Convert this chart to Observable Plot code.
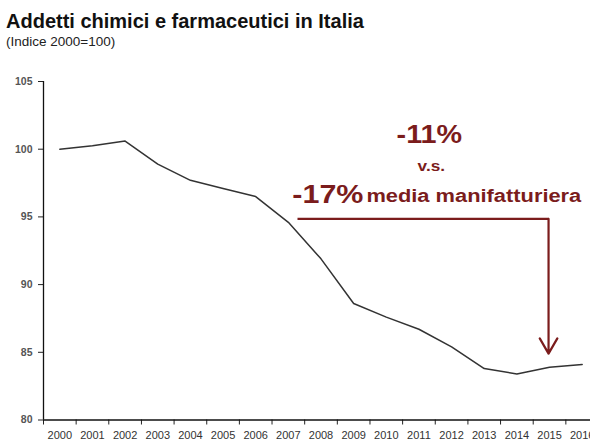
<!DOCTYPE html>
<html>
<head>
<meta charset="utf-8">
<script src="https://cdn.jsdelivr.net/npm/d3@7"></script>
<script src="https://cdn.jsdelivr.net/npm/@observablehq/plot@0.6"></script>
<style>
  html, body { margin: 0; padding: 0; background: #fff; overflow: hidden; width: 590px; height: 441px; }
  #title { position: absolute; left: 6px; top: 10px; font: bold 20px "Liberation Sans", Arial, sans-serif; color: #111; white-space: nowrap; line-height: 22px; }
  #subtitle { position: absolute; left: 6px; top: 34px; font: 13.5px "Liberation Sans", Arial, sans-serif; color: #222; white-space: nowrap; line-height: 16px; }
  #chart { position: absolute; left: 0; top: 60px; }
</style>
</head>
<body>
<div id="title">Addetti chimici e farmaceutici in Italia</div>
<div id="subtitle">(Indice 2000=100)</div>
<div id="chart"></div>
<script>
// Data
const years = [2000, 2001, 2002, 2003, 2004, 2005, 2006, 2007, 2008, 2009, 2010, 2011, 2012, 2013, 2014, 2015, 2016];
const index = [100.0, 100.25, 100.6, 98.9, 97.7, 97.1, 96.5, 94.6, 91.9, 88.6, 87.6, 86.7, 85.4, 83.8, 83.4, 83.9, 84.1];
const yTicks = [80, 85, 90, 95, 100, 105];

// Annotation anchors (data units)
const arrowPath = {x1: 2007.28, x2: 2014.97, yTop: 94.85, yTip: 84.9};
const annotLabels = ["-11%", "v.s.", "-17%", "media manifatturiera"];
const annotX = [2011.32, 2011.38, 2009.30, 2009.39];
const annotY = [100.47, 98.4, 96.03, 96.1];

const data = years.map((y, i) => ({year: y, value: index[i]}));
const bounds = years.map(y => y - 0.5).concat([years[years.length - 1] + 0.5]);
const red = "#7b1c1c";
const font = "'Liberation Sans', Arial, sans-serif";

const chart = Plot.plot({
  width: 600,
  height: 381,
  marginLeft: 43,
  marginRight: 2,
  marginTop: 21,
  marginBottom: 21.5,
  style: {fontFamily: font, background: "transparent", maxWidth: "none", overflow: "visible"},
  x: {domain: [years[0] - 0.5, years[years.length - 1] + 0.5]},
  y: {domain: [80, 105]},
  marks: [
    Plot.axisY({ticks: yTicks, tickSize: 5, tickPadding: 6, fontSize: 10.5, fontWeight: "bold", fill: "#555", stroke: "#222", label: null}),
    Plot.axisX({ticks: bounds, tickSize: 5, tickFormat: () => "", stroke: "#222", label: null}),
    Plot.axisX({ticks: years, tickSize: 0, tickPadding: 11, tickFormat: d => String(d), fontSize: 11, fill: "#333", label: null}),
    Plot.ruleX([years[0] - 0.5], {y1: 80, y2: 105, stroke: "#111", strokeWidth: 1.3}),
    Plot.ruleY([80], {stroke: "#111", strokeWidth: 1.3}),
    Plot.line(data, {x: "year", y: "value", stroke: "#333", strokeWidth: 1.5}),
    Plot.link([arrowPath], {x1: "x1", x2: "x2", y1: "yTop", y2: "yTop", stroke: red, strokeWidth: 2.2}),
    Plot.arrow([arrowPath], {x1: "x2", x2: "x2", y1: "yTop", y2: "yTip", stroke: red, strokeWidth: 2.2, headLength: 12, bend: 0}),
    Plot.text([0], {x: annotX[0], y: annotY[0], text: () => annotLabels[0], fill: red, fontSize: 25, fontWeight: "bold", textAnchor: "middle", lineAnchor: "bottom"}),
    Plot.text([1], {x: annotX[1], y: annotY[1], text: () => annotLabels[1], fill: red, fontSize: 15, fontWeight: "bold", textAnchor: "middle", lineAnchor: "bottom"}),
    Plot.text([2], {x: annotX[2], y: annotY[2], text: () => annotLabels[2], fill: red, fontSize: 26.5, fontWeight: "bold", textAnchor: "end", lineAnchor: "bottom"}),
    Plot.text([3], {x: annotX[3], y: annotY[3], text: () => annotLabels[3], fill: red, fontSize: 19, fontWeight: "bold", textAnchor: "start", lineAnchor: "bottom"})
  ]
});

// horizontally widen the annotation texts like the reference
d3.select(chart).selectAll('g[aria-label="text"] text').each(function() {
  const t = this.getAttribute("transform") || "";
  const x = this.getAttribute("x"), y = this.getAttribute("y");
  let tr = t;
  if (x !== null || y !== null) {
    tr += ` translate(${x || 0},${y || 0})`;
    this.setAttribute("x", 0);
    this.setAttribute("y", 0);
  }
  this.setAttribute("transform", tr + " scale(1.15,1)");
});

document.getElementById("chart").appendChild(chart);
</script>
</body>
</html>
